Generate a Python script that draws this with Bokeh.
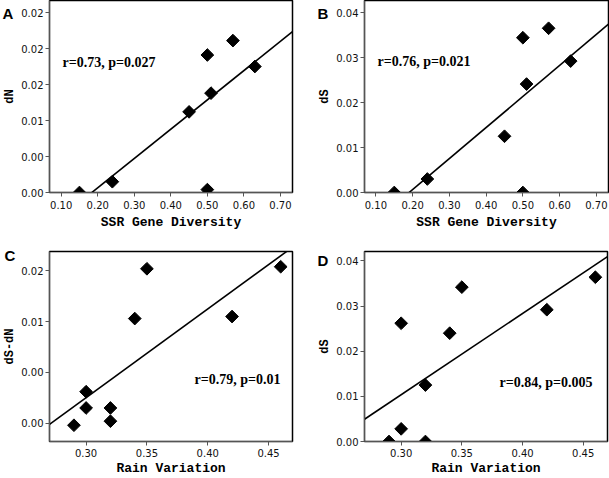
import numpy as np
from bokeh.plotting import figure
from bokeh.layouts import column, row
from bokeh.models import FixedTicker, Label, Range1d
from bokeh.embed import file_html
from bokeh.resources import INLINE

# ---- data ----
ssr_div = [0.15, 0.24, 0.45, 0.50, 0.57, 0.51, 0.63, 0.50]
dn_a = [0.0, 0.0015, 0.0112, 0.0191, 0.0211, 0.0138, 0.0175, 0.0004]
ds_b = [0.0, 0.0030, 0.0125, 0.0344, 0.0365, 0.0241, 0.0292, 0.0]
rain_var = [0.29, 0.30, 0.30, 0.32, 0.32, 0.34, 0.35, 0.42, 0.46]
dsdn_c = [-0.0002, 0.0015, 0.0031, 0.0015, 0.0002, 0.0103, 0.0152, 0.0105, 0.0154]
ds_d = [0.0, 0.0028, 0.0262, 0.0125, 0.0, 0.0240, 0.0342, 0.0292, 0.0364]

ssr_ticks = [0.10, 0.20, 0.30, 0.40, 0.50, 0.60, 0.70]
ssr_tick_labels = ["0.10", "0.20", "0.30", "0.40", "0.50", "0.60", "0.70"]
rain_ticks = [0.30, 0.35, 0.40, 0.45]
rain_tick_labels = ["0.30", "0.35", "0.40", "0.45"]
dn_ticks = [0.0, 0.005, 0.010, 0.015, 0.020, 0.025]
dn_tick_labels = ["0.00", "0.00", "0.01", "0.02", "0.02", "0.02"]
ds_ticks = [0.0, 0.01, 0.02, 0.03, 0.04]
ds_tick_labels = ["0.00", "0.01", "0.02", "0.03", "0.04"]
dsdn_ticks = [0.0, 0.005, 0.010, 0.015]
dsdn_tick_labels = ["0.00", "0.00", "0.01", "0.02"]

stats = ["r=0.73, p=0.027", "r=0.76, p=0.021", "r=0.79, p=0.01", "r=0.84, p=0.005"]
letters = ["A", "B", "C", "D"]


def panel(x, y, xr, yr, xt, xtl, yt, ytl, xlab, ylab, size, borders, frame,
          stat, stat_px, letter, letter_off, letter_standoff, xstand):
    w, h = size
    bl, br, bt, bb = borders
    fl, ft, fw, fh = frame  # page coords of the frame

    def to_data(px, py):
        dx = xr[0] + (px - fl) / fw * (xr[1] - xr[0])
        dy = yr[1] - (py - ft) / fh * (yr[1] - yr[0])
        return dx, dy

    p = figure(width=w, height=h, output_backend="svg", toolbar_location=None,
               x_range=Range1d(*xr), y_range=Range1d(*yr),
               min_border_left=bl, min_border_right=br,
               min_border_top=bt, min_border_bottom=bb)
    p.grid.visible = False
    p.outline_line_color = "black"
    p.outline_line_width = 1.5
    p.background_fill_color = "white"
    p.border_fill_color = "white"

    # panel letter as the figure title, pulled to the left of the frame
    p.title.text = letter
    p.title.align = "left"
    p.title.vertical_align = "bottom"
    p.title.offset = letter_off
    p.title.standoff = letter_standoff
    p.title.text_font = "Liberation Sans"
    p.title.text_font_style = "bold"
    p.title.text_font_size = "15px"
    p.title.text_color = "black"

    p.xaxis.ticker = FixedTicker(ticks=xt)
    p.xaxis.major_label_overrides = dict(zip(xt, xtl))
    p.yaxis.ticker = FixedTicker(ticks=yt)
    p.yaxis.major_label_overrides = dict(zip(yt, ytl))
    for ax in (p.xaxis[0], p.yaxis[0]):
        ax.axis_line_color = "#555555"
        ax.major_tick_line_color = "#555555"
        ax.major_tick_out = 4
        ax.major_tick_in = 0
        ax.minor_tick_line_color = None
        ax.major_label_text_font = "DejaVu Sans"
        ax.major_label_text_font_size = "10px"
        ax.major_label_text_color = "#111111"
        ax.axis_label_text_font = "Liberation Mono"
        ax.axis_label_text_font_style = "bold"
        ax.axis_label_text_color = "black"
    p.yaxis.major_label_standoff = 2
    p.yaxis.axis_label_standoff = 1
    p.yaxis.axis_label_text_font_size = "12px"
    p.xaxis.axis_label_text_font_size = "13px"
    p.xaxis.major_label_standoff = xstand[0]
    p.xaxis.axis_label_standoff = xstand[1]
    p.xaxis.axis_label = xlab
    p.yaxis.axis_label = ylab

    # least-squares regression line
    k, b = np.polyfit(np.array(x), np.array(y), 1)
    lx = np.array(xr)
    p.line(lx, k * lx + b, line_color="black", line_width=1.6)

    p.scatter(x, y, marker="square", angle=np.pi / 4, size=9,
              fill_color="black", line_color="black")

    sx, sy = to_data(*stat_px)
    p.add_layout(Label(x=sx, y=sy, text=stat, text_font="Liberation Serif",
                       text_font_style="bold", text_font_size="14px",
                       text_baseline="middle", text_align="left",
                       text_color="black"))
    return p


pA = panel(ssr_div, dn_a, (0.068, 0.733), (0.0, 0.02667),
           ssr_ticks, ssr_tick_labels, dn_ticks, dn_tick_labels,
           "SSR Gene Diversity", "dN", (304, 240), (49, 12, 0, 48),
           (49, 0, 243, 192), stats[0], (62, 62), letters[0], -47, -43, (4, 3))
pB = panel(ssr_div, ds_b, (0.069, 0.733), (0.0, 0.04267),
           ssr_ticks, ssr_tick_labels, ds_ticks, ds_tick_labels,
           "SSR Gene Diversity", "dS", (305, 240), (60, 1, 0, 48),
           (364, 0, 244, 192), stats[1], (377, 61), letters[1], -47, -43, (4, 3))
pC = panel(rain_var, dsdn_c, (0.2699, 0.4697), (-0.0018, 0.0169),
           rain_ticks, rain_tick_labels, dsdn_ticks, dsdn_tick_labels,
           "Rain Variation", "dS-dN", (304, 238), (49, 12, 11, 37),
           (49, 251, 243, 190), stats[2], (194, 379), letters[2], -45, -25, (3, 1))
pD = panel(rain_var, ds_d, (0.2698, 0.47), (0.0, 0.0421),
           rain_ticks, rain_tick_labels, ds_ticks, ds_tick_labels,
           "Rain Variation", "dS", (305, 238), (60, 2, 11, 37),
           (364, 251, 243, 190), stats[3], (499, 382), letters[3], -47, -34, (3, 1))

layout = column(row(pA, pB), row(pC, pD))
open("out.html", "w").write(file_html(layout, INLINE))
